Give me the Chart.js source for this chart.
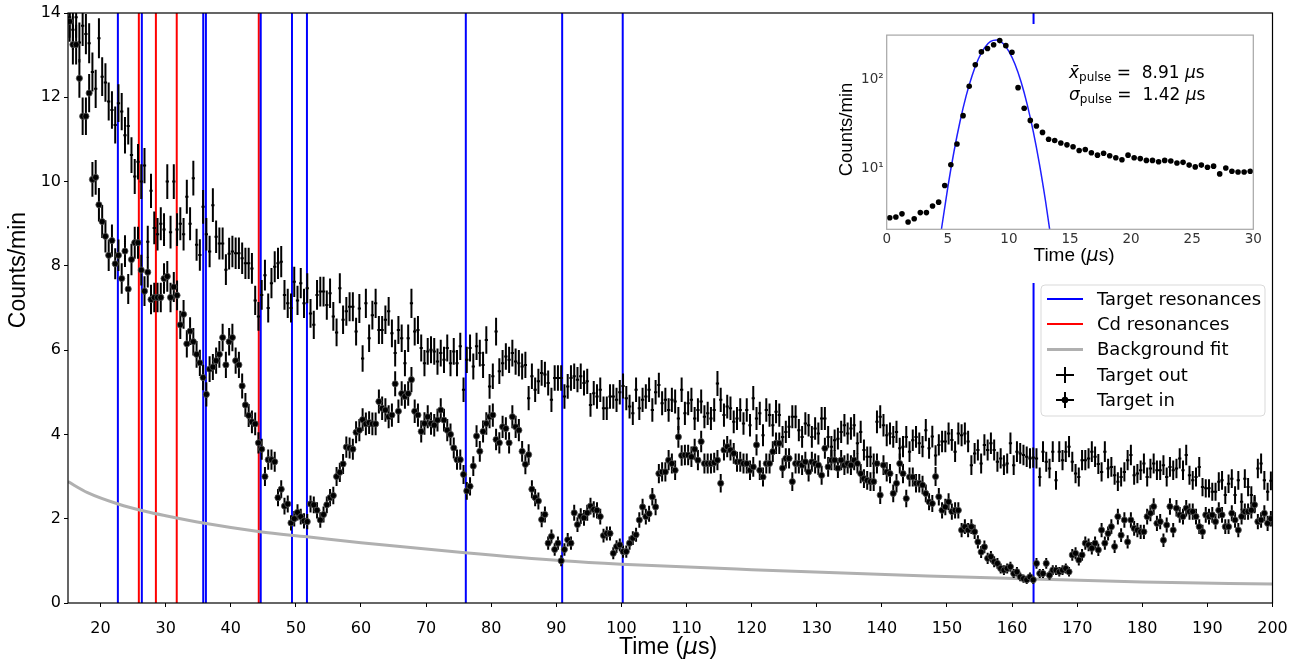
<!DOCTYPE html>
<html><head><meta charset="utf-8">
<script src="https://cdn.jsdelivr.net/npm/chart.js@4.4.1/dist/chart.umd.min.js"></script>
<style>
html,body{margin:0;padding:0;background:#fff;}
#wrap{position:relative;width:1300px;height:661px;overflow:hidden;}
#main{position:absolute;left:0;top:0;}
#inset{position:absolute;left:832px;top:24px;background:#fff;}
</style></head><body>
<div id="wrap">
<canvas id="main" width="1300" height="661"></canvas>
<canvas id="inset" width="439" height="259"></canvas>
</div>
<script>
// ---------------- main chart data ----------------
const binStart = 15.25;   // µs, centre of first time bin
const binWidth = 0.5;     // µs
const liveMinutes = 59;   // counting time per bin: Poisson error sigma = sqrt(rate / t)

// Target in (counts/min), bins 15.25 ... 199.75 µs
const targetIn = [
 13.8, 13.25, 13.25, 12.45, 11.55, 11.55, 12.1, 10.05, 10.1, 9.45,
 9.05, 8.7, 8.25, 8.6, 8.05, 8.25, 7.7, 8.35, 7.45, 8.15,
 8.55, 8.55, 7.9, 7.4, 7.85, 7.2, 7.25, 7.25, 7.25, 7.7,
 7.75, 7.25, 7.5, 7.3, 6.6, 6.85, 6.15, 6.45, 6.2, 5.9,
 5.7, 5.35, 4.95, 5.55, 5.6, 5.75, 5.9, 6.3, 5.65, 6.2,
 6.3, 5.75, 5.65, 5.15, 4.7, 4.45, 4.3, 4.25, 3.8, 3.65,
 3.0, 3.4, 3.4, 3.35, 2.5, 2.7, 2.3, 2.35, 1.9, 2.0,
 2.15, 2.05, 1.95, 1.93, 2.35, 2.33, 2.2, 1.97, 2.1, 2.33,
 2.5, 2.55, 3.0, 3.1, 3.3, 3.7, 3.68, 3.65, 4.05, 4.1,
 4.35, 4.25, 4.28, 4.25, 4.25, 4.78, 4.62, 4.58, 4.42, 4.46,
 5.2, 4.55, 4.97, 4.9, 4.97, 5.3, 4.55, 4.46, 4.07, 4.26,
 4.42, 4.26, 4.22, 4.34, 4.58, 4.34, 4.1, 4.0, 3.68, 3.4,
 3.4, 3.05, 2.66, 2.77, 3.25, 3.96, 3.6, 4.07, 4.26, 4.42,
 4.46, 3.88, 3.8, 4.18, 4.14, 3.8, 4.42, 4.18, 4.1, 3.6,
 3.29, 3.52, 2.7, 2.5, 2.42, 1.98, 2.1, 1.42, 1.58, 1.27,
 1.42, 1.0, 1.27, 1.5, 1.42, 2.14, 1.86, 2.06, 2.02, 2.14,
 2.3, 2.22, 2.2, 2.05, 1.6, 1.65, 1.65, 1.18, 1.34, 1.38,
 1.22, 1.22, 1.42, 1.54, 1.62, 1.97, 2.28, 2.05, 2.12, 2.52,
 2.28, 3.07, 3.11, 3.11, 3.39, 3.31, 3.15, 3.94, 3.5, 3.51,
 3.51, 3.47, 3.65, 3.39, 3.83, 3.31, 3.31, 3.31, 3.33, 3.39,
 2.84, 3.63, 3.71, 3.63, 3.55, 3.35, 3.35, 3.31, 3.31, 3.15,
 3.23, 3.75, 3.15, 2.99, 3.31, 3.31, 3.59, 3.79, 3.79, 3.2,
 3.43, 3.43, 2.88, 3.31, 3.31, 3.27, 3.35, 3.11, 3.35, 3.31,
 3.27, 3.03, 3.67, 3.23, 3.39, 3.39, 3.2, 3.39, 3.27, 3.31,
 3.27, 3.39, 3.31, 3.07, 2.95, 2.91, 2.88, 2.88, 3.31, 2.56,
 3.27, 3.11, 3.07, 2.6, 2.84, 3.31, 3.07, 2.48, 2.99, 2.99,
 2.84, 2.84, 2.8, 2.6, 2.4, 2.36, 3.0, 2.52, 2.2, 2.28,
 2.4, 2.17, 2.2, 2.2, 1.73, 1.81, 1.73, 1.81, 1.69, 1.45,
 1.21, 1.33, 1.06, 1.1, 0.98, 0.94, 0.82, 0.78, 0.82, 0.86,
 0.7, 0.74, 0.62, 0.58, 0.55, 0.62, 0.55, 0.94, 0.7, 0.7,
 0.94, 0.66, 0.78, 0.78, 0.74, 0.78, 0.82, 0.74, 1.14, 1.18,
 1.02, 1.14, 1.42, 1.38, 1.3, 1.42, 1.26, 1.73, 1.42, 1.65,
 1.81, 1.34, 2.05, 1.61, 1.97, 1.45, 1.97, 1.77, 1.73, 1.69,
 1.69, 2.05, 2.13, 2.29, 1.89, 1.93, 1.49, 1.85, 2.29, 1.73,
 2.25, 2.09, 2.05, 2.25, 2.17, 2.17, 2.05, 1.81, 1.69, 2.09,
 2.05, 2.09, 1.93, 2.2, 2.09, 1.81, 1.81, 2.13, 1.97, 1.73,
 2.05, 2.17, 2.17, 2.2, 2.33, 1.93, 1.97, 2.13, 1.89, 2.0
];

// Target out (counts/min), same bins
const targetOut = [
 13.9, 13.6, 13.9, 13.3, 13.7, 13.5, 13.28, 12.6, 12.2, 13.4,
 12.49, 12.35, 11.9, 11.7, 11.34, 11.86, 11.66, 11.1, 11.32, 10.63,
 10.12, 10.47, 10.0, 10.38, 8.57, 9.78, 8.9, 8.75, 9.0, 8.86,
 10.0, 8.8, 10.0, 8.86, 9.0, 8.75, 9.64, 9.0, 10.08, 8.5,
 8.26, 9.4, 8.75, 8.34, 9.44, 8.69, 8.53, 8.53, 7.91, 8.29,
 8.34, 8.3, 8.3, 8.18, 8.06, 8.06, 7.94, 7.18, 6.8, 7.31,
 7.78, 7.0, 7.59, 7.98, 8.06, 8.1, 7.31, 7.11, 7.0, 7.62,
 7.18, 7.59, 7.11, 7.47, 6.87, 6.6, 7.31, 7.39, 7.39, 7.07,
 7.35, 6.8, 6.42, 7.47, 6.72, 6.92, 7.03, 7.03, 6.44, 6.99,
 5.8, 7.11, 6.28, 6.83, 7.11, 6.48, 6.48, 6.72, 6.92, 6.4,
 5.93, 6.48, 6.28, 5.69, 6.28, 7.11, 6.44, 6.48, 6.05, 5.69,
 5.97, 6.01, 5.97, 5.73, 5.93, 5.77, 6.05, 5.69, 5.97, 5.69,
 6.09, 5.06, 5.77, 6.05, 5.61, 6.09, 5.93, 5.65, 6.24, 5.14,
 5.38, 6.44, 5.5, 5.69, 5.85, 5.77, 5.93, 5.73, 5.69, 5.61,
 5.65, 4.86, 5.38, 5.06, 5.26, 5.46, 5.42, 5.22, 4.82, 5.34,
 5.34, 5.34, 4.9, 5.14, 5.34, 5.38, 5.3, 5.38, 5.22, 5.26,
 4.7, 4.98, 4.9, 5.06, 4.62, 4.62, 4.9, 4.9, 4.82, 5.0,
 5.15, 4.86, 4.66, 4.5, 5.06, 4.62, 4.82, 4.9, 5.06, 4.58,
 5.0, 5.17, 4.74, 4.82, 4.58, 4.82, 4.78, 4.38, 5.06, 4.5,
 4.74, 4.82, 4.38, 4.58, 4.78, 4.42, 4.5, 4.38, 4.58, 5.21,
 4.82, 4.46, 4.66, 4.62, 4.3, 4.38, 4.58, 4.26, 4.58, 4.22,
 4.86, 4.38, 4.5, 3.98, 4.58, 4.46, 4.22, 4.54, 4.46, 3.94,
 4.06, 4.18, 4.42, 4.42, 4.1, 3.94, 4.26, 4.22, 3.94, 4.14,
 4.02, 4.38, 4.38, 3.94, 3.71, 3.86, 3.9, 4.06, 4.22, 4.02,
 4.14, 4.22, 3.79, 4.06, 3.63, 3.47, 3.47, 3.31, 4.3, 4.42,
 4.22, 3.98, 4.02, 3.94, 4.06, 3.67, 3.71, 3.94, 3.59, 3.86,
 3.94, 3.79, 3.71, 4.1, 3.67, 3.95, 3.5, 3.75, 3.83, 3.83,
 4.02, 3.87, 3.59, 4.02, 3.98, 4.02, 3.83, 3.27, 3.55, 3.63,
 3.31, 3.75, 3.63, 3.79, 3.63, 3.35, 3.43, 3.27, 3.31, 3.79,
 3.27, 3.59, 3.55, 3.51, 3.47, 3.43, 3.45, 3.43, 2.99, 3.59,
 3.35, 3.19, 3.59, 2.91, 3.59, 3.39, 3.59, 3.71, 3.35, 3.07,
 2.99, 3.39, 3.39, 3.43, 3.59, 3.47, 3.3, 3.11, 3.59, 3.19,
 3.23, 3.03, 2.88, 2.99, 3.11, 3.39, 3.51, 3.03, 3.07, 3.15,
 3.31, 2.99, 3.19, 3.31, 3.15, 3.15, 3.27, 2.99, 3.23, 3.15,
 3.19, 3.43, 3.15, 3.51, 3.03, 2.91, 2.99, 3.23, 2.75, 2.72,
 2.72, 2.64, 2.64, 2.88, 2.91, 2.56, 2.83, 2.95, 2.56, 2.91,
 2.4, 2.95, 2.75, 2.56, 2.36, 3.19, 3.31, 2.91, 2.64, 2.9
];

const targetResonances = [22.66, 26.34, 35.77, 36.18, 44.6, 49.4, 51.7, 76.1, 90.9, 100.2, 163.3];
const cdResonances = [25.88, 28.5, 31.7, 44.3];

const bgTimes  = [15, 18, 22.7, 27, 30, 36, 44.5, 51.7, 60, 76, 91, 100, 120, 147, 163, 180, 200];
const bgValues = [2.88, 2.62, 2.35, 2.17, 2.07, 1.89, 1.69, 1.57, 1.43, 1.19, 1.0, 0.92, 0.79, 0.64, 0.57, 0.5, 0.45];

const xTickValues = [20, 30, 40, 50, 60, 70, 80, 90, 100, 110, 120, 130, 140, 150, 160, 170, 180, 190, 200];
const yTickValues = [0, 2, 4, 6, 8, 10, 12, 14];
const xRange = [15, 200];
const yRange = [0, 14];

// ---------------- inset data ----------------
const pulseStart = 0.25, pulseBin = 0.5;
const pulseCounts = [
 2.84, 2.9, 3.14, 2.55, 2.77, 3.24, 3.24, 3.84, 4.24, 6.5,
 11.1, 18.9, 39.2, 83.4, 145, 202, 220, 243, 270, 237,
 200, 80.5, 47.4, 34.7, 30.1, 25.5, 21.4, 20.7, 19.4, 18.5,
 17.6, 16.0, 16.4, 15.1, 14.2, 14.9, 14.0, 13.3, 12.6, 14.2,
 13.3, 13.0, 12.4, 12.4, 12.0, 12.4, 12.2, 11.6, 11.8, 11.0,
 10.5, 11.0, 10.4, 10.7, 8.77, 10.2, 9.37, 9.2, 9.2, 9.37
];
const fitTimes  = [4.0, 4.5, 5.0, 5.5, 6.0, 6.5, 7.0, 7.5, 8.0, 8.5, 9.0, 9.5, 10.0, 10.5, 11.0, 11.5, 12.0, 12.5, 13.0, 13.5, 14.0];
const fitValues = [0.70, 2.21, 6.21, 15.4, 33.7, 65.2, 111, 168, 224, 264, 274, 252, 205, 147, 93.1, 52.1, 25.8, 11.3, 4.34, 1.48, 0.46];
const insetXTicks = [0, 5, 10, 15, 20, 25, 30];
const insetYTicks = [10, 100];
const insetYLabels = ['10\u00B9', '10\u00B2'];
const insetXRange = [0, 30];
const insetYRange = [2.11, 311];

// ---------------- build datasets ----------------
const tinData  = targetIn.map((v, i) => ({x: binStart + i * binWidth, y: v}));
const toutData = targetOut.map((v, i) => ({x: binStart + i * binWidth, y: v}));
const bgData   = bgTimes.map((t, i) => ({x: t, y: bgValues[i]}));
function vlines(arr) {
  const d = [];
  arr.forEach(t => { d.push({x: t, y: yRange[0]}, {x: t, y: yRange[1]}, {x: t, y: null}); });
  return d;
}

const errorBars = {
  id: 'errorBars',
  beforeDatasetDraw(chart, args) {
    const ds = chart.data.datasets[args.index];
    if (!ds.errorBars) return;
    const {ctx, chartArea: a, scales: {x, y}} = chart;
    ctx.save();
    ctx.beginPath(); ctx.rect(a.left, a.top, a.width, a.height); ctx.clip();
    ctx.strokeStyle = '#000';
    ctx.lineWidth = 2;
    ctx.beginPath();
    ds.data.forEach(p => {
      const e = Math.sqrt(p.y / liveMinutes);
      const px = x.getPixelForValue(p.x);
      ctx.moveTo(px, y.getPixelForValue(p.y - e));
      ctx.lineTo(px, y.getPixelForValue(p.y + e));
      const py = y.getPixelForValue(p.y);
      ctx.moveTo(x.getPixelForValue(p.x - binWidth / 2), py);
      ctx.lineTo(x.getPixelForValue(p.x + binWidth / 2), py);
    });
    ctx.stroke();
    ctx.restore();
  }
};

function drawRuns(ctx, runs, x, y) {
  let w = 0;
  runs.forEach(r => { ctx.font = r.f; w += ctx.measureText(r.t).width; });
  let cx = x - w / 2;
  runs.forEach(r => {
    ctx.font = r.f;
    ctx.fillText(r.t, cx, y + (r.dy || 0));
    cx += ctx.measureText(r.t).width;
  });
}

const decorMain = {
  id: 'decorMain',
  afterDraw(chart) {
    const {ctx, chartArea: a} = chart;
    ctx.save();
    // frame
    ctx.strokeStyle = '#000'; ctx.lineWidth = 1.2;
    ctx.strokeRect(a.left, a.top, a.right - a.left, a.bottom - a.top);
    // axis titles
    ctx.fillStyle = '#000';
    ctx.textBaseline = 'middle'; ctx.textAlign = 'left';
    drawRuns(ctx, [
      {t: 'Time (', f: '23px "Liberation Sans"'},
      {t: '\u00B5', f: 'italic 23px "DejaVu Sans"'},
      {t: 's)', f: '23px "Liberation Sans"'}
    ], 668, 648);
    ctx.save();
    ctx.translate(19, 270); ctx.rotate(-Math.PI / 2);
    ctx.textAlign = 'center';
    ctx.font = '23px "Liberation Sans"';
    ctx.fillText('Counts/min', 0, 0);
    ctx.restore();

    // legend
    const ds = chart.data.datasets;
    const byLabel = l => ds.find(d => d.label === l);
    const order = ['Target resonances', 'Cd resonances', 'Background fit', 'Target out', 'Target in'];
    const bx = 1041, by = 285, bw = 224, bh = 131, r = 4;
    ctx.beginPath();
    ctx.moveTo(bx + r, by); ctx.lineTo(bx + bw - r, by); ctx.quadraticCurveTo(bx + bw, by, bx + bw, by + r);
    ctx.lineTo(bx + bw, by + bh - r); ctx.quadraticCurveTo(bx + bw, by + bh, bx + bw - r, by + bh);
    ctx.lineTo(bx + r, by + bh); ctx.quadraticCurveTo(bx, by + bh, bx, by + bh - r);
    ctx.lineTo(bx, by + r); ctx.quadraticCurveTo(bx, by, bx + r, by);
    ctx.closePath();
    ctx.fillStyle = 'rgba(255,255,255,0.85)'; ctx.fill();
    ctx.strokeStyle = '#d9d9d9'; ctx.lineWidth = 1; ctx.stroke();
    const rows = [299, 324, 349.5, 375, 400];
    ctx.font = '18px "DejaVu Sans"';
    ctx.textAlign = 'left'; ctx.textBaseline = 'middle';
    order.forEach((lab, i) => {
      const d = byLabel(lab);
      const yy = rows[i];
      if (lab === 'Target out' || lab === 'Target in') {
        ctx.strokeStyle = '#000'; ctx.lineWidth = 2;
        ctx.beginPath();
        ctx.moveTo(1065, yy - 8); ctx.lineTo(1065, yy + 8);
        ctx.moveTo(1056, yy); ctx.lineTo(1074, yy);
        ctx.stroke();
        if (lab === 'Target in') {
          ctx.fillStyle = '#000';
          ctx.beginPath(); ctx.arc(1065, yy, 3.3, 0, Math.PI * 2); ctx.fill();
        }
      } else {
        ctx.strokeStyle = d.borderColor; ctx.lineWidth = d.borderWidth;
        ctx.beginPath(); ctx.moveTo(1047, yy); ctx.lineTo(1083, yy); ctx.stroke();
      }
      ctx.fillStyle = '#000';
      ctx.fillText(d.label, 1097, yy + 1);
    });
    ctx.restore();
  }
};

new Chart(document.getElementById('main'), {
  type: 'scatter',
  data: { datasets: [
    { label: 'Target in', data: tinData, showLine: false, pointRadius: 3.1, pointBackgroundColor: '#000',
      pointBorderWidth: 0.8, pointBorderColor: '#555', errorBars: true },
    { label: 'Target out', data: toutData, showLine: false, pointRadius: 0, errorBars: true },
    { label: 'Background fit', data: bgData, showLine: true, borderColor: '#b0b0b0', borderWidth: 3,
      pointRadius: 0, cubicInterpolationMode: 'monotone' },
    { label: 'Target resonances', data: vlines(targetResonances), showLine: true, borderColor: '#0000ff',
      borderWidth: 2, pointRadius: 0, spanGaps: false },
    { label: 'Cd resonances', data: vlines(cdResonances), showLine: true, borderColor: '#ff0000',
      borderWidth: 2, pointRadius: 0, spanGaps: false }
  ]},
  options: {
    responsive: false, animation: false, events: [],
    layout: { padding: { top: 13, right: 27.5, left: 0, bottom: 0 } },
    plugins: { legend: { display: false }, tooltip: { enabled: false } },
    scales: {
      x: {
        type: 'linear', min: xRange[0], max: xRange[1],
        afterBuildTicks: s => { s.ticks = xTickValues.map(v => ({value: v})); s.min = xRange[0]; s.max = xRange[1]; },
        afterFit: s => { s.height = 58; },
        grid: { display: true, drawOnChartArea: false, drawTicks: true, tickLength: 4, color: '#000', lineWidth: 1 },
        border: { display: false },
        ticks: { font: { family: '"DejaVu Sans"', size: 16 }, color: '#000', padding: 12, maxRotation: 0, autoSkip: false }
      },
      y: {
        type: 'linear', min: yRange[0], max: yRange[1],
        afterBuildTicks: s => { s.ticks = yTickValues.map(v => ({value: v})); s.min = yRange[0]; s.max = yRange[1]; },
        afterFit: s => { s.width = 68; },
        grid: { display: true, drawOnChartArea: false, drawTicks: true, tickLength: 4, color: '#000', lineWidth: 1 },
        border: { display: false },
        ticks: { font: { family: '"DejaVu Sans"', size: 16 }, color: '#000', padding: 3, autoSkip: false }
      }
    }
  },
  plugins: [errorBars, decorMain]
});

// ---------------- inset ----------------
const pulseData = pulseCounts.map((v, i) => ({x: pulseStart + i * pulseBin, y: v}));
const fitData = fitTimes.map((t, i) => ({x: t, y: fitValues[i]}));

const decorInset = {
  id: 'decorInset',
  beforeDraw(chart) {
    const {ctx} = chart;
    ctx.save(); ctx.fillStyle = '#fff'; ctx.fillRect(0, 0, chart.width, chart.height); ctx.restore();
  },
  afterDraw(chart) {
    const {ctx, chartArea: a} = chart;
    ctx.save();
    ctx.strokeStyle = '#a6a6a6'; ctx.lineWidth = 1.2;
    ctx.strokeRect(a.left, a.top, a.right - a.left, a.bottom - a.top);
    ctx.fillStyle = '#000'; ctx.textBaseline = 'middle';
    drawRuns(ctx, [
      {t: 'Time (', f: '19px "Liberation Sans"'},
      {t: '\u00B5', f: 'italic 19px "DejaVu Sans"'},
      {t: 's)', f: '19px "Liberation Sans"'}
    ], 242, 232);
    ctx.save();
    ctx.translate(15, 105.5); ctx.rotate(-Math.PI / 2);
    ctx.textAlign = 'center'; ctx.font = '18.5px "Liberation Sans"';
    ctx.fillText('Counts/min', 0, 0);
    ctx.restore();
    ctx.textAlign = 'left';
    // annotations
    const put = (runs, x, y) => {
      let cx = x;
      runs.forEach(r => { ctx.font = r.f; ctx.fillText(r.t, cx, y + (r.dy || 0)); cx += ctx.measureText(r.t).width; });
    };
    put([
      {t: 'x\u0304', f: 'italic 17px "DejaVu Sans"'},
      {t: 'pulse', f: '12px "DejaVu Sans"', dy: 4},
      {t: ' =  8.91 ', f: '17px "DejaVu Sans"'},
      {t: '\u00B5', f: 'italic 17px "DejaVu Sans"'},
      {t: 's', f: '17px "DejaVu Sans"'}
    ], 237, 50);
    put([
      {t: '\u03C3', f: 'italic 17px "DejaVu Sans"'},
      {t: 'pulse', f: '12px "DejaVu Sans"', dy: 4},
      {t: ' =  1.42 ', f: '17px "DejaVu Sans"'},
      {t: '\u00B5', f: 'italic 17px "DejaVu Sans"'},
      {t: 's', f: '17px "DejaVu Sans"'}
    ], 237, 72);
    ctx.restore();
  }
};

new Chart(document.getElementById('inset'), {
  type: 'scatter',
  data: { datasets: [
    { label: 'Pulse data', data: pulseData, showLine: false, pointRadius: 2.8, pointBackgroundColor: '#000', pointBorderWidth: 0 },
    { label: 'Gaussian fit', data: fitData, showLine: true, borderColor: '#1f1fff', borderWidth: 1.5, pointRadius: 0,
      cubicInterpolationMode: 'monotone' }
  ]},
  options: {
    responsive: false, animation: false, events: [],
    layout: { padding: { top: 4.3, right: 17.7, left: 0, bottom: 0 } },
    plugins: { legend: { display: false }, tooltip: { enabled: false } },
    scales: {
      x: {
        type: 'linear', min: insetXRange[0], max: insetXRange[1],
        afterBuildTicks: s => { s.ticks = insetXTicks.map(v => ({value: v})); s.min = insetXRange[0]; s.max = insetXRange[1]; },
        afterFit: s => { s.height = 53.7; },
        grid: { display: false, drawTicks: false, tickLength: 0 },
        border: { display: false },
        ticks: { font: { family: '"DejaVu Sans"', size: 13.5 }, color: '#333', padding: 2, maxRotation: 0, autoSkip: false }
      },
      y: {
        type: 'logarithmic', min: insetYRange[0], max: insetYRange[1],
        afterBuildTicks: s => { s.ticks = insetYTicks.map(v => ({value: v})); s.min = insetYRange[0]; s.max = insetYRange[1]; },
        afterFit: s => { s.width = 54.7; },
        grid: { display: false, drawTicks: false, tickLength: 0 },
        border: { display: false },
        ticks: { font: { family: '"DejaVu Sans"', size: 13.5 }, color: '#333', padding: 3, autoSkip: false,
          callback: (v) => { const k = insetYTicks.indexOf(v); return k >= 0 ? insetYLabels[k] : ''; } }
      }
    }
  },
  plugins: [decorInset]
});
</script>
</body></html>
